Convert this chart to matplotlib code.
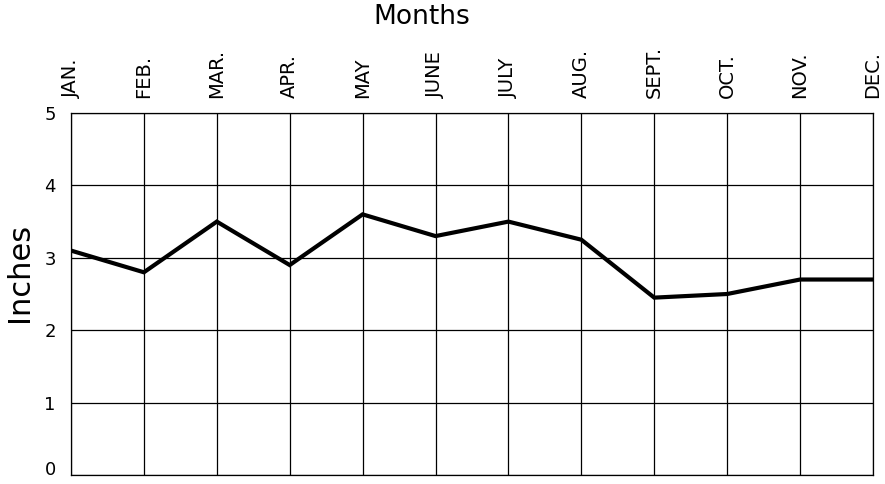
import matplotlib.pyplot as plt

months = ["JAN.", "FEB.", "MAR.", "APR.", "MAY", "JUNE", "JULY", "AUG.",
          "SEPT.", "OCT.", "NOV.", "DEC."]
rainfall = [3.1, 2.8, 3.5, 2.9, 3.6, 3.3, 3.5, 3.25, 2.45, 2.5, 2.7, 2.7]
y_ticks = [0, 1, 2, 3, 4, 5]
y_labels = ["0", "1", "2", "3", "4", "5"]

plt.rcParams['font.family'] = ['DejaVu Sans']

fig = plt.figure(figsize=(8.85, 4.84), dpi=100)
ax = fig.add_axes([0.0802, 0.0186, 0.9062, 0.7479])

x = list(range(len(months)))
ax.plot(x, rainfall, color="black", linewidth=3.0, solid_joinstyle="miter",
        zorder=3)

ax.set_xlim(0, len(months) - 1)
ax.set_ylim(0, 5)
ax.set_xticks(x)
ax.set_xticklabels(months, rotation=90, fontsize=14)
ax.set_yticks(y_ticks)
ax.set_yticklabels(y_labels, fontsize=13)
ax.xaxis.tick_top()
ax.xaxis.set_label_position("top")
ax.tick_params(axis="x", length=0, pad=11)
ax.tick_params(axis="y", length=0, pad=11)
ax.grid(True, color="black", linewidth=0.9)
for s in ax.spines.values():
    s.set_linewidth(0.9)

ax.set_xlabel("Months", fontsize=19)
ax.xaxis.set_label_coords(0.437, 1.245)
ax.set_ylabel("Inches", fontsize=22)
ax.yaxis.set_label_coords(-0.046, 0.56)

# keep the bottom "0" label inside the picture
ax.get_yticklabels()[0].set_verticalalignment("baseline")

fig.savefig("out.png", dpi=100)
